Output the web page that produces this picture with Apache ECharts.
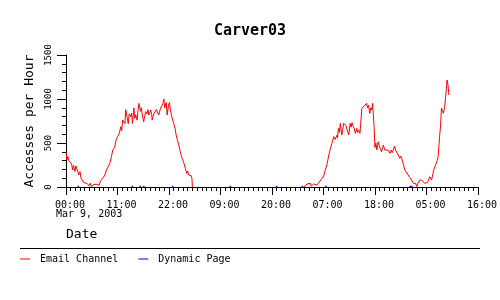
<!DOCTYPE html>
<html>
<head>
<meta charset="utf-8">
<script src="https://cdn.jsdelivr.net/npm/echarts@6/dist/echarts.min.js"></script>
<style>html,body{margin:0;padding:0;background:#fff}#c{width:500px;height:300px}</style>
</head>
<body>
<div id="c"></div>
<script>
// Hours since Mar 9, 2003 00:00 ; null = no data
var emailHours = [0.0,0.2,0.4,0.6,1.0,1.2,1.4,1.6,1.9,2.1,2.3,2.5,2.7,3.0,3.2,3.4,3.8,4.2,4.5,4.9,5.0,5.2,5.4,5.6,5.9,6.1,6.3,6.6,6.9,7.1,7.3,7.6,8.0,8.3,8.65,9.0,9.2,9.4,9.7,10.0,10.2,10.4,10.7,11.0,11.2,11.4,11.7,11.9,12.1,12.4,12.6,12.75,13.1,13.3,13.5,13.8,14.0,14.2,14.5,14.7,14.9,15.2,15.4,15.6,15.9,16.1,16.3,16.6,16.8,17.0,17.3,17.5,17.7,18.1,18.3,18.4,18.8,19.1,19.3,19.5,19.8,20.0,20.2,20.5,20.7,20.9,21.1,21.2,21.4,21.6,21.9,22.1,22.3,22.6,22.8,23.0,23.3,23.5,23.7,24.1,24.4,24.8,25.1,25.3,25.5,25.8,26.0,26.2,26.5,26.7,26.9,27.0,
  27.05,
  50.8,51.15,51.5,51.9,52.2,52.4,52.6,52.9,53.1,53.3,53.6,54.0,54.3,54.7,55.05,55.4,55.8,56.1,56.3,56.5,56.8,57.0,57.2,57.5,57.9,58.0,58.2,58.4,58.6,58.8,58.9,59.1,59.3,59.6,59.8,60.0,60.2,60.4,60.7,60.9,61.1,61.4,61.6,61.8,62.1,62.3,62.5,62.8,63.2,63.5,63.7,63.9,64.2,64.4,64.6,64.9,65.1,65.3,65.5,65.8,66.0,66.2,66.4,66.7,66.9,67.1,67.4,67.6,67.8,68.1,68.3,68.5,68.8,69.0,69.2,69.5,69.7,69.9,70.2,70.4,70.6,71.0,71.3,71.5,71.7,72.0,72.2,72.4,72.7,73.1,73.4,73.6,73.8,74.2,74.5,74.7,74.9,75.2,75.4,75.6,75.9,76.1,76.3,76.6,77.0,77.2,77.4,77.7,78.1,78.4,78.6,78.8,79.1,79.3,79.5,79.8,80.0,80.2,80.4,80.6,80.9,81.1,81.3,81.4,81.6,81.8];
var emailValues = [400,310,345,300,288,262,193,245,175,240,250,180,136,175,100,80,50,72,40,15,30,42,4,22,30,11,50,30,50,20,60,87,110,136,193,230,210,275,345,420,400,450,535,570,550,610,685,640,760,780,720,880,780,720,830,800,840,723,900,780,820,760,880,950,860,900,818,742,800,856,830,880,818,875,830,760,837,818,880,860,818,840,895,875,950,1000,900,895,960,818,930,960,875,800,760,723,666,600,553,477,401,326,288,250,212,155,180,136,117,130,98,0,
  null,
  0,22,34,22,42,10,22,34,15,42,22,50,72,98,125,193,269,352,330,440,496,480,572,541,590,560,666,620,723,742,590,640,723,742,700,685,720,590,723,680,731,685,660,610,666,620,647,610,894,875,920,913,950,900,930,837,900,875,950,700,450,500,420,515,470,458,401,440,477,420,440,401,420,400,382,420,390,401,465,420,401,363,326,350,326,269,280,193,174,136,110,130,80,42,61,40,4,42,60,80,61,75,68,42,34,50,61,117,80,155,200,231,250,300,345,572,685,894,870,837,913,1026,1150,1216,1159,1045];

var dynamicHours = [2.4,13.96,15.6,16.4,22.6,34.9,44.8,50.3,55.3,73.3,73.7];
var dynamicValues = [8,8,8,8,8,8,8,8,8,8,8];

var xTicks = ['00:00','11:00','22:00','09:00','20:00','07:00','18:00','05:00','16:00'];
var yTicks = [0,500,1000,1500];

var emailData = emailHours.map(function(h,i){ return [h, emailValues[i] === null ? '-' : emailValues[i]]; });
var dynData = [];
dynamicHours.forEach(function(h,i){
  dynData.push([h, dynamicValues[i]]);
  dynData.push([h+0.4, dynamicValues[i]]);
  dynData.push([h+0.45, '-']);
});

var FONT = '"DejaVu Sans Mono", "Liberation Mono", monospace';
var chart = echarts.init(document.getElementById('c'), null, {renderer:'canvas'});
chart.setOption({
  animation: false,
  backgroundColor: '#fff',
  title: { text: 'Carver03', left: 'center', top: 19,
    textStyle: { fontFamily: FONT, fontSize: 15, fontWeight: 'bold', color: '#000' } },
  grid: { left: 66, right: 20, top: 55, bottom: 113, containLabel: false },
  xAxis: {
    type: 'value', min: 0, max: 88, interval: 11,
    axisLine: { lineStyle: { color: '#000', width: 1 } },
    axisTick: { show: true, length: 8, lineStyle: { color: '#000' } },
    minorTick: { show: true, splitNumber: 11, length: 4, lineStyle: { color: '#000' } },
    splitLine: { show: false },
    axisLabel: { margin: 13, color: '#000', fontFamily: FONT, fontSize: 10, padding: [0,0,0,8],
      formatter: function(v){ return xTicks[Math.round(v/11)]; } }
  },
  yAxis: {
    type: 'value', min: 0, max: 1500, interval: 500,
    name: 'Accesses per Hour', nameLocation: 'middle', nameRotate: 90, nameGap: 28,
    nameTextStyle: { fontFamily: FONT, fontSize: 13, color: '#000' },
    axisLine: { show: true, lineStyle: { color: '#000', width: 1 } },
    axisTick: { show: true, length: 9, lineStyle: { color: '#000' } },
    minorTick: { show: true, splitNumber: 5, length: 4, lineStyle: { color: '#000' } },
    splitLine: { show: false },
    axisLabel: { margin: 13, rotate: 90, color: '#000', fontFamily: FONT, fontSize: 9,
      formatter: function(v){ return yTicks.indexOf(v) >= 0 ? String(v) : ''; } }
  },
  legend: {
    left: 20, top: 254, padding: 0, itemWidth: 10, itemHeight: 1, itemGap: 20, icon: 'rect',
    textStyle: { fontFamily: FONT, fontSize: 10, color: '#000', padding: [0,0,0,5] },
    data: ['Email Channel', 'Dynamic Page']
  },
  graphic: [
    { type: 'line', shape: { x1: 20, y1: 248.5, x2: 480, y2: 248.5 }, style: { stroke: '#000', lineWidth: 1 } },
    { type: 'text', left: 66, top: 228, style: { text: 'Date', font: '13px ' + FONT, fill: '#000' } },
    { type: 'text', left: 56, top: 209, style: { text: 'Mar 9, 2003', font: '10px ' + FONT, fill: '#000' } }
  ],
  series: [
    { name: 'Email Channel', type: 'line', data: emailData, showSymbol: false, symbol: 'none',
      color: '#ff0000', lineStyle: { color: '#ff0000', width: 1 }, connectNulls: false },
    { name: 'Dynamic Page', type: 'line', data: dynData, showSymbol: false, symbol: 'none',
      color: '#0000ff', lineStyle: { color: '#0000ff', width: 1 }, connectNulls: false }
  ]
});
</script>
</body>
</html>
